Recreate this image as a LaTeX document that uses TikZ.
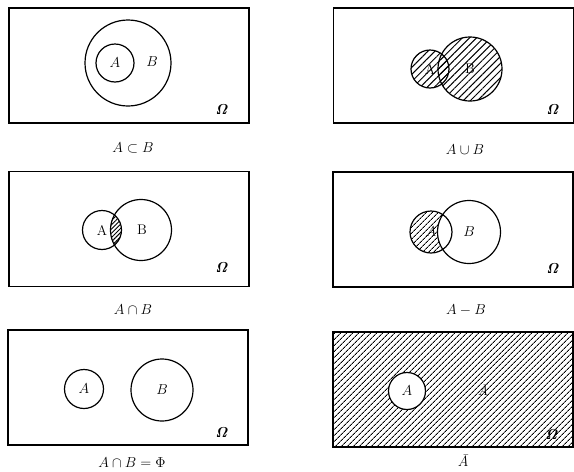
\documentclass[tikz,border=0pt]{standalone}
\usepackage{amsmath}
\usetikzlibrary{patterns.meta}

\tikzset{
  omega/.style={rectangle, draw, line width=1.5pt, minimum width=240pt, minimum height=115pt, inner sep=0pt},
  setcirc/.style={circle, draw, line width=1.2pt, inner sep=0pt},
  lbl/.style={font=\fontsize{14}{16}\selectfont, inner sep=0pt},
  omlbl/.style={font=\fontsize{14}{16}\selectfont, inner sep=0pt},
  caption/.style={font=\fontsize{15}{17}\selectfont, inner sep=0pt},
  hatch/.style={pattern={Lines[angle=45,distance=#1,line width=1pt]}},
  hatch/.default=4pt,
}

\begin{document}
\begin{tikzpicture}[x=1pt, y=-1pt]
  \useasboundingbox (0,0) rectangle (574,472);

  % A subset B
  \node[omega] (O1) at (129,65.5) {};
  \node[setcirc, minimum size=86pt] (B1) at (128,63) {};
  \node[setcirc, minimum size=38pt, lbl] (A1) at (115,63) {$A$};
  \node[lbl] (LB1) at (152,62) {$B$};
  \node[omlbl] (W1) at (222,110) {$\boldsymbol{\mathit{\Omega}}$};
  \node[caption] (C1) at (133,148) {$A\subset B$};

  % A union B
  \node[omega] (O2) at (453.5,65.5) {};
  \node[setcirc, hatch=5pt, minimum size=38pt, lbl] (A2) at (430,69) {A};
  \node[setcirc, hatch=5pt, minimum size=64pt, lbl] (B2) at (470,69) {B};
  \node[omlbl] (W2) at (553,110) {$\boldsymbol{\mathit{\Omega}}$};
  \node[caption] (C2) at (465,150) {$A\cup B$};

  % A cap B
  \node[omega] (O3) at (129,229) {};
  \node[setcirc, minimum size=39pt, lbl] (A3) at (102,230) {A};
  \node[setcirc, minimum size=61pt, lbl] (B3) at (141,230) {\hspace{2pt}B};
  \begin{scope}
    \clip (A3.center) circle (19.5pt);
    \fill[hatch=3pt] (B3.center) circle (30.5pt);
  \end{scope}
  \node[omlbl] (W3) at (222,268) {$\boldsymbol{\mathit{\Omega}}$};
  \node[caption] (C3) at (133,310) {$A\cap B$};

  % A minus B
  \node[omega] (O4) at (453,229.5) {};
  \node[setcirc, minimum size=42pt, lbl] (A4) at (431,232) {$A$};
  \node[setcirc, minimum size=63pt, lbl] (B4) at (469,232) {$B$};
  \begin{scope}
    \clip (A4.center) circle (21pt);
    \fill[hatch, even odd rule] (O4.south west) rectangle (O4.north east)
      (B4.center) circle (31.5pt);
  \end{scope}
  \node[omlbl] (W4) at (553,269) {$\boldsymbol{\mathit{\Omega}}$};
  \node[caption] (C4) at (466,310) {$A-B$};

  % disjoint
  \node[omega] (O5) at (128,387.5) {};
  \node[setcirc, minimum size=39pt, lbl] (A5) at (84,389) {$A$};
  \node[setcirc, minimum size=62pt, lbl] (B5) at (162,390) {$B$};
  \node[omlbl] (W5) at (222,433) {$\boldsymbol{\mathit{\Omega}}$};
  \node[caption] (C5) at (132,463) {$A\cap B=\Phi$};

  % complement
  \node[omega] (O6) at (453,389.5) {};
  \fill[hatch, even odd rule] (O6.south west) rectangle (O6.north east)
    (407,391) circle (18.5pt);
  \node[setcirc, minimum size=37pt, lbl] (A6) at (407,391) {$A$};
  \node[lbl] (LA6) at (483,390) {\itshape Ā};
  \node[omlbl] (W6) at (552,435) {$\boldsymbol{\mathit{\Omega}}$};
  \node[caption] (C6) at (463,461) {\itshape Ā};
\end{tikzpicture}
\end{document}
